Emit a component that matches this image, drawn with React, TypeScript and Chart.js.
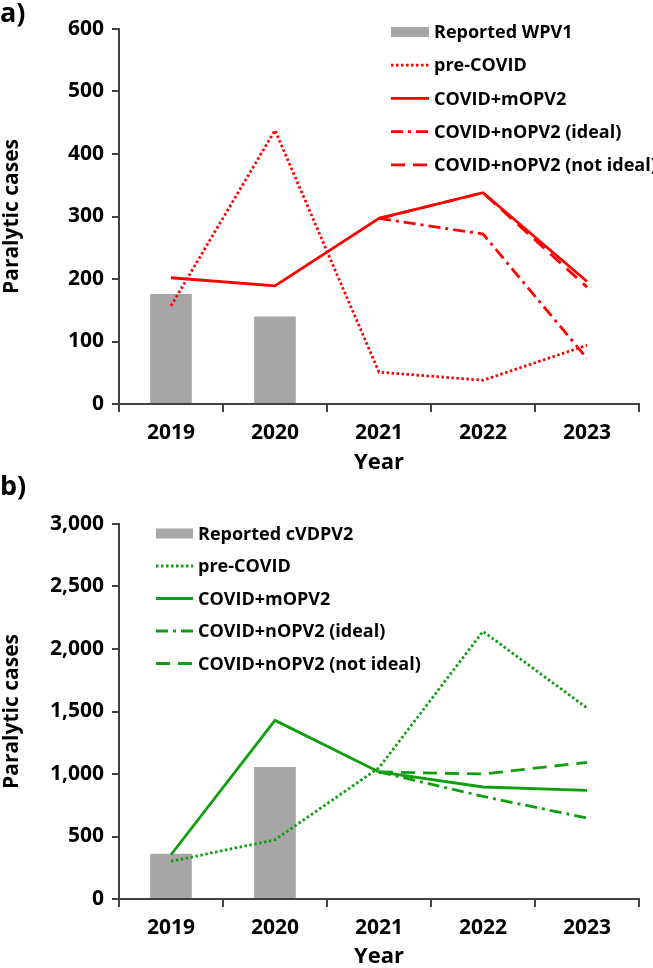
import React, { useEffect, useRef } from "react";
import { Chart, registerables } from "chart.js";

Chart.register(...registerables);

const years = ["2019", "2020", "2021", "2022", "2023"];

const wpv1Reported = [176, 140, null, null, null];
const wpv1PreCovid = [157, 438, 51, 38, 94];
const wpv1Mopv2 = [202, 189, 297, 338, 196];
const wpv1NopvIdeal = [null, null, 297, 272, 73];
const wpv1NopvNotIdeal = [null, null, 297, 338, 187];

const cvdpv2Reported = [362, 1056, null, null, null];
const cvdpv2PreCovid = [301, 474, 1050, 2141, 1528];
const cvdpv2Mopv2 = [354, 1429, 1016, 896, 869];
const cvdpv2NopvIdeal = [null, null, 1016, 821, 648];
const cvdpv2NopvNotIdeal = [null, null, 1016, 1000, 1093];

const FONT = "'Open Sans', 'DejaVu Sans', sans-serif";
const AXIS = "#404040";
const GRAY = "#A6A6A6";
const RED = "#FF0000";
const GREEN = "#0E9F0E";

const legendPlugin = {
  id: "customLegend",
  afterDraw(chart: any, _args: any, opts: any) {
    const ctx = chart.ctx;
    const { x, y, gap, swatchW, textX } = opts;
    chart.data.datasets.forEach((ds: any, i: number) => {
      const cy = y + i * gap;
      ctx.save();
      if (ds.type === "bar") {
        ctx.fillStyle = ds.backgroundColor;
        ctx.fillRect(x, cy - 5, swatchW, 10);
      } else {
        ctx.strokeStyle = ds.borderColor;
        ctx.lineWidth = ds.borderWidth;
        ctx.lineCap = "butt";
        ctx.setLineDash(ds.borderDash || []);
        ctx.beginPath();
        ctx.moveTo(x, cy);
        ctx.lineTo(x + swatchW, cy);
        ctx.stroke();
      }
      ctx.setLineDash([]);
      ctx.fillStyle = "#000";
      ctx.font = `bold 18px ${FONT}`;
      ctx.textBaseline = "middle";
      ctx.textAlign = "left";
      ctx.fillText(ds.label, textX, cy + 1);
      ctx.restore();
    });
  },
};

function makeDatasets(color: string, reportedLabel: string, rep: any[], pre: any[], m: any[], ideal: any[], notIdeal: any[]) {
  const line = (label: string, data: any[], dash: number[]) => ({
    type: "line",
    label,
    data,
    borderColor: color,
    backgroundColor: color,
    borderWidth: 2.8,
    borderDash: dash,
    borderCapStyle: "butt",
    pointRadius: 0,
    pointHoverRadius: 0,
    tension: 0,
    fill: false,
    spanGaps: false,
    order: 1,
  });
  return [
    {
      type: "bar",
      label: reportedLabel,
      data: rep,
      backgroundColor: GRAY,
      borderWidth: 0,
      barPercentage: 0.4,
      categoryPercentage: 1,
      order: 10,
    },
    line("pre-COVID", pre, [2.5, 2.5]),
    line("COVID+mOPV2", m, []),
    line("COVID+nOPV2 (ideal)", ideal, [12, 5, 3, 5]),
    line("COVID+nOPV2 (not ideal)", notIdeal, [14, 8]),
  ];
}

function ChartPanel(props: {
  width: number;
  height: number;
  top: number;
  max: number;
  step: number;
  xHeight: number;
  yearPad: number;
  datasets: any[];
  legend: any;
}) {
  const ref = useRef<HTMLCanvasElement>(null);
  useEffect(() => {
    if (!ref.current) return;
    const chart = new Chart(ref.current, {
      type: "bar",
      data: { labels: years, datasets: props.datasets as any },
      plugins: [legendPlugin as any],
      options: {
        responsive: false,
        animation: false,
        layout: { padding: { top: props.top, right: 14, left: 0, bottom: 0 } },
        plugins: {
          legend: { display: false },
          tooltip: { enabled: false },
          customLegend: props.legend,
        } as any,
        scales: {
          x: {
            type: "category",
            offset: true,
            grid: {
              offset: true,
              drawOnChartArea: false,
              drawTicks: true,
              tickLength: 8,
              color: AXIS,
              lineWidth: 2,
            },
            border: { display: true, color: AXIS, width: 2 },
            ticks: {
              color: "#000",
              font: { family: FONT, size: 21, weight: "bold" },
              padding: 8,
            },
            title: {
              display: true,
              text: "Year",
              color: "#000",
              font: { family: FONT, size: 22, weight: "bold", lineHeight: 1 },
              padding: { top: 0, bottom: props.yearPad },
            },
            afterFit: (s: any) => {
              s.height = props.xHeight;
            },
          },
          y: {
            min: 0,
            max: props.max,
            grid: {
              drawOnChartArea: false,
              drawTicks: true,
              tickLength: 7,
              color: AXIS,
              lineWidth: 2,
            },
            border: { display: true, color: AXIS, width: 2 },
            ticks: {
              stepSize: props.step,
              color: "#000",
              font: { family: FONT, size: 21, weight: "bold" },
              padding: 8,
              callback: (v: any) => Number(v).toLocaleString("en-US"),
            },
            title: {
              display: true,
              text: "Paralytic cases",
              color: "#000",
              font: { family: FONT, size: 21, weight: "bold", lineHeight: 1 },
              padding: { top: 2, bottom: 0 },
            },
            afterFit: (s: any) => {
              s.width = 119;
            },
          },
        },
      } as any,
    });
    return () => chart.destroy();
  }, []);
  return <canvas ref={ref} width={props.width} height={props.height} style={{ display: "block" }} />;
}

export default function App() {
  const labelStyle: React.CSSProperties = {
    position: "absolute",
    left: 0,
    fontFamily: FONT,
    fontWeight: "bold",
    fontSize: 27,
    lineHeight: "30px",
    color: "#000",
  };
  return (
    <div style={{ position: "absolute", left: 0, top: 0, width: 653, height: 968, background: "#fff", overflow: "hidden" }}>
      <div style={{ position: "absolute", left: 0, top: 0 }}>
        <ChartPanel
          width={653}
          height={480}
          top={29}
          max={600}
          step={100}
          xHeight={76}
          yearPad={6}
          datasets={makeDatasets(RED, "Reported WPV1", wpv1Reported, wpv1PreCovid, wpv1Mopv2, wpv1NopvIdeal, wpv1NopvNotIdeal)}
          legend={{ x: 391, y: 32, gap: 33.2, swatchW: 38, textX: 434 }}
        />
      </div>
      <div style={{ position: "absolute", left: 0, top: 480 }}>
        <ChartPanel
          width={653}
          height={488}
          top={44}
          max={3000}
          step={500}
          xHeight={69}
          yearPad={0}
          datasets={makeDatasets(GREEN, "Reported cVDPV2", cvdpv2Reported, cvdpv2PreCovid, cvdpv2Mopv2, cvdpv2NopvIdeal, cvdpv2NopvNotIdeal)}
          legend={{ x: 156, y: 53.5, gap: 32.5, swatchW: 37, textX: 198 }}
        />
      </div>
      <div style={{ ...labelStyle, top: -3 }}>a)</div>
      <div style={{ ...labelStyle, top: 470 }}>b)</div>
    </div>
  );
}
